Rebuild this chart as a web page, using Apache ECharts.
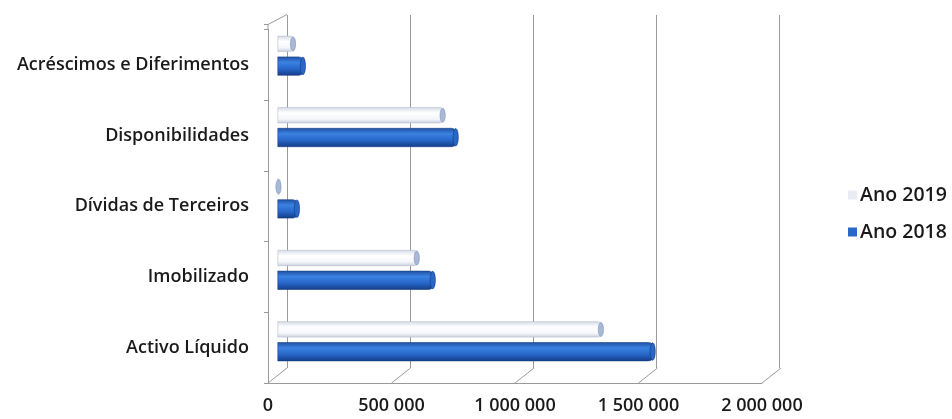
<!DOCTYPE html>
<html>
<head>
<meta charset="utf-8">
<script src="https://cdn.jsdelivr.net/npm/echarts@6/dist/echarts.min.js"></script>
<style>
html,body{margin:0;padding:0;background:#fff;}
#chart{width:952px;height:419px;}
</style>
</head>
<body>
<div id="chart"></div>
<script>
// Categories listed bottom to top
const categories = ['Activo Líquido', 'Imobilizado', 'Dívidas de Terceiros', 'Disponibilidades', 'Acréscimos e Diferimentos'];
const ano2019 = [1320000, 573000, 12000, 678000, 71000];
const ano2018 = [1530000, 638000, 87000, 731000, 111000];
const axisTicks = [0, 500000, 1000000, 1500000, 2000000];
const seriesNames = ['Ano 2019', 'Ano 2018'];

const FONT = 'Open Sans';
const lineColor = '#9a9a9a';

function fmt(v) {
  return String(v).replace(/\B(?=(\d{3})+(?!\d))/g, ' ');
}

const blueFill = new echarts.graphic.LinearGradient(0, 0, 0, 1, [
  { offset: 0, color: '#1f4f9f' },
  { offset: 0.3, color: '#3a82e2' },
  { offset: 0.65, color: '#2766c8' },
  { offset: 1, color: '#143c86' }
]);
const whiteFill = new echarts.graphic.LinearGradient(0, 0, 0, 1, [
  { offset: 0, color: '#d3d9e6' },
  { offset: 0.35, color: '#ffffff' },
  { offset: 0.75, color: '#f4f6fa' },
  { offset: 1, color: '#c6cddc' }
]);

const chart = echarts.init(document.getElementById('chart'), null, { renderer: 'canvas' });

// Perspective floor edges: short diagonals from the front axis to the back wall
function floorRender(params, api) {
  const cs = params.coordSys;
  const v = api.value(0);
  const p = api.coord([v, 0]);
  const yb = cs.y + cs.height;
  return {
    type: 'line',
    shape: { x1: p[0], y1: yb, x2: p[0] + 19, y2: yb - 15 },
    style: { stroke: lineColor, lineWidth: 1 },
    silent: true
  };
}

// Top edge of the left wall
function wallTopRender(params, api) {
  const cs = params.coordSys;
  return {
    type: 'group',
    children: [
      { type: 'line', shape: { x1: cs.x, y1: cs.y, x2: cs.x, y2: cs.y - 5 }, style: { stroke: lineColor, lineWidth: 1 } },
      { type: 'line', shape: { x1: cs.x, y1: cs.y - 5, x2: cs.x + 19, y2: cs.y - 15 }, style: { stroke: lineColor, lineWidth: 1 } },
      { type: 'line', shape: { x1: cs.x - 4, y1: cs.y - 5, x2: cs.x, y2: cs.y - 5 }, style: { stroke: lineColor, lineWidth: 1 } }
    ],
    silent: true
  };
}

// Elliptical end caps on the cylinders
function capRender(offset, ry, fill, stroke) {
  return function (params, api) {
    const p = api.coord([api.value(0), api.value(1)]);
    return {
      type: 'ellipse',
      shape: { cx: p[0] - 2, cy: p[1] + offset, rx: 2.6, ry: ry },
      style: { fill: fill, stroke: stroke, lineWidth: 0.6 },
      silent: true
    };
  };
}

const option = {
  backgroundColor: '#ffffff',
  animation: false,
  grid: [
    // back wall
    { left: 287, top: 15, width: 492, height: 353 },
    // front edge: axis labels and floor line
    { left: 268, top: 29.5, width: 494, height: 353.5 },
    // bars
    { left: 277.5, top: 20, width: 493, height: 357 }
  ],
  xAxis: [
    {
      gridIndex: 0, type: 'value', min: 0, max: 2000000, interval: 500000,
      axisLine: { show: false }, axisTick: { show: false }, axisLabel: { show: false },
      splitLine: { show: true, lineStyle: { color: lineColor, width: 1 } }
    },
    {
      gridIndex: 1, type: 'value', min: 0, max: 2000000, interval: 500000,
      axisLine: { show: true, lineStyle: { color: lineColor, width: 1 } },
      axisTick: { show: false },
      splitLine: { show: false },
      axisLabel: {
        margin: 14, color: '#1a1a1a', fontFamily: FONT, fontSize: 18, fontWeight: 600,
        formatter: v => fmt(v)
      }
    },
    {
      gridIndex: 2, type: 'value', min: 0, max: 2000000, interval: 500000, show: false
    }
  ],
  yAxis: [
    { gridIndex: 0, type: 'category', data: categories, show: false },
    {
      gridIndex: 1, type: 'category', data: categories,
      axisLine: { show: true, lineStyle: { color: lineColor, width: 1 } },
      axisTick: { show: true, length: 4, lineStyle: { color: lineColor } },
      splitLine: { show: false },
      axisLabel: { margin: 19, color: '#1a1a1a', fontFamily: FONT, fontSize: 18, fontWeight: 600 }
    },
    { gridIndex: 2, type: 'category', data: categories, show: false }
  ],
  legend: {
    orient: 'vertical',
    left: 843, top: 180,
    itemWidth: 9, itemHeight: 9, itemGap: 17,
    icon: 'rect',
    textStyle: { color: '#1a1a1a', fontFamily: FONT, fontSize: 19.5, fontWeight: 600, padding: [0, 0, 0, -2] },
    data: [
      { name: seriesNames[0], itemStyle: { color: '#e8ebf2', borderWidth: 0 } },
      { name: seriesNames[1], itemStyle: { color: '#2a68c8', borderWidth: 0 } }
    ]
  },
  series: [
    {
      name: 'floor', type: 'custom', xAxisIndex: 1, yAxisIndex: 1,
      data: axisTicks.map(v => [v]), renderItem: floorRender, silent: true, z: 1
    },
    {
      name: 'wallTop', type: 'custom', xAxisIndex: 1, yAxisIndex: 1,
      data: [[0]], renderItem: wallTopRender, silent: true, z: 1
    },
    {
      name: seriesNames[0], type: 'bar', xAxisIndex: 2, yAxisIndex: 2,
      data: ano2019, barWidth: 16, barGap: '30%',
      itemStyle: { color: whiteFill, borderColor: '#b7bfd2', borderWidth: 0.6, borderRadius: [0, 5, 5, 0] },
      z: 3
    },
    {
      name: seriesNames[1], type: 'bar', xAxisIndex: 2, yAxisIndex: 2,
      data: ano2018, barWidth: 19,
      itemStyle: { color: blueFill, borderColor: '#173f88', borderWidth: 0.6, borderRadius: [0, 6, 6, 0] },
      z: 3
    },
    {
      name: 'cap2019', type: 'custom', xAxisIndex: 2, yAxisIndex: 2,
      data: ano2019.map((v, i) => [v, i]),
      renderItem: capRender(-11.8, 7, '#a9b8d6', '#7f93bd'), silent: true, z: 4
    },
    {
      name: 'cap2018', type: 'custom', xAxisIndex: 2, yAxisIndex: 2,
      data: ano2018.map((v, i) => [v, i]),
      renderItem: capRender(10.2, 8.8, '#2a66c6', '#133a80'), silent: true, z: 4
    }
  ]
};

chart.setOption(option);
</script>
</body>
</html>
